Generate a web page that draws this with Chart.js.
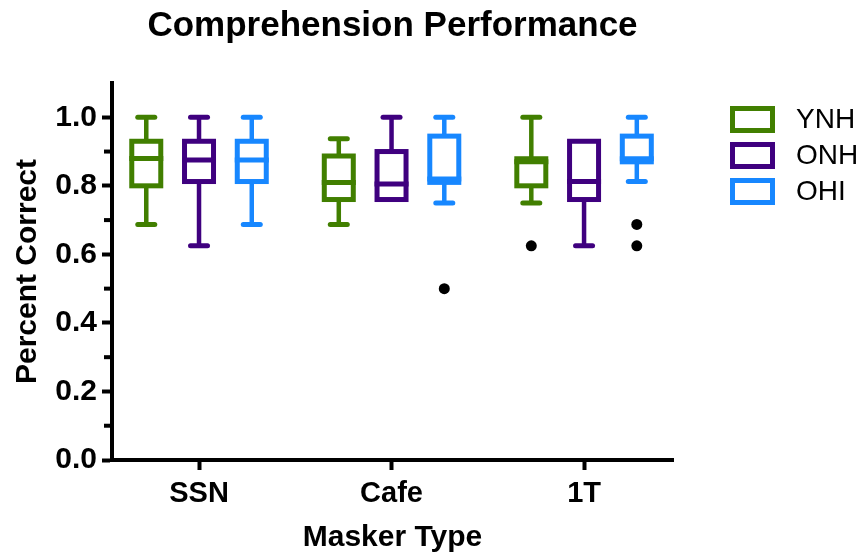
<!DOCTYPE html>
<html>
<head>
<meta charset="utf-8">
<script src="https://cdn.jsdelivr.net/npm/chart.js@4"></script>
<style>
  html, body { margin: 0; padding: 0; background: #fff; }
  #wrap { width: 866px; height: 559px; }
</style>
</head>
<body>
<div id="wrap"><canvas id="myChart"></canvas></div>
<script>
var categories = ['SSN', 'Cafe', '1T']
var groups = ['YNH', 'ONH', 'OHI']
var colors = ['#417f00', '#3f007f', '#1787ff']
var yTicks = [0, 0.2, 0.4, 0.6, 0.8, 1.0]
var yMinorTicks = [0.1, 0.3, 0.5, 0.7, 0.9]

// five-number summaries, one value per masker type
var ynhMin = [0.6875, 0.6875, 0.75]
var ynhQ1 = [0.80, 0.76, 0.80]
var ynhMedian = [0.88, 0.81, 0.87]
var ynhQ3 = [0.93, 0.887, 0.879]
var ynhMax = [1.0, 0.9375, 1.0]
var ynhOutliers = [[], [], [0.625]]

var onhMin = [0.625, 0.76, 0.625]
var onhQ1 = [0.8125, 0.76, 0.76]
var onhMedian = [0.875, 0.805, 0.8125]
var onhQ3 = [0.93, 0.90, 0.93]
var onhMax = [1.0, 1.0, 0.93]
var onhOutliers = [[], [], []]

var ohiMin = [0.6875, 0.75, 0.8125]
var ohiQ1 = [0.8125, 0.81, 0.87]
var ohiMedian = [0.875, 0.82, 0.879]
var ohiQ3 = [0.93, 0.945, 0.945]
var ohiMax = [1.0, 1.0, 1.0]
var ohiOutliers = [[], [0.5], [0.6875, 0.625]]

var mins = [ynhMin, onhMin, ohiMin]
var q1s = [ynhQ1, onhQ1, ohiQ1]
var medians = [ynhMedian, onhMedian, ohiMedian]
var q3s = [ynhQ3, onhQ3, ohiQ3]
var maxes = [ynhMax, onhMax, ohiMax]
var outliers = [ynhOutliers, onhOutliers, ohiOutliers]

// side-by-side spacing of the three boxes inside a masker group
var groupOffset = [-0.274, 0, 0.274]

Chart.defaults.font.family = 'Arial, "Liberation Sans", Helvetica, sans-serif'
Chart.defaults.color = '#000'

var datasets = groups.map(function (name, g) {
  return {
    type: 'bar',
    label: name,
    data: categories.map(function (c, i) {
      return { x: i + 1 + groupOffset[g], y: [q1s[g][i], q3s[g][i]] }
    }),
    backgroundColor: 'rgba(0,0,0,0)',
    borderColor: colors[g],
    borderWidth: 0,
    barThickness: 29,
    grouped: false
  }
})

groups.forEach(function (name, g) {
  var pts = []
  outliers[g].forEach(function (vals, i) {
    vals.forEach(function (v) {
      pts.push({ x: i + 1 + groupOffset[g], y: v })
    })
  })
  datasets.push({
    type: 'scatter',
    label: name + ' outliers',
    data: pts,
    pointRadius: 5.5,
    pointBackgroundColor: '#000',
    pointBorderWidth: 0
  })
})

function line (ctx, x1, y1, x2, y2) {
  ctx.beginPath()
  ctx.moveTo(x1, y1)
  ctx.lineTo(x2, y2)
  ctx.stroke()
}

// whiskers, box outlines and median lines, placed on the bar elements
var boxPlot = {
  id: 'boxPlot',
  afterDatasetsDraw: function (chart) {
    var ctx = chart.ctx
    var y = chart.scales.y
    ctx.save()
    groups.forEach(function (name, g) {
      var meta = chart.getDatasetMeta(g)
      ctx.strokeStyle = colors[g]
      meta.data.forEach(function (bar, i) {
        var left = bar.x - bar.width / 2
        var top = Math.min(bar.y, bar.base)
        var bottom = Math.max(bar.y, bar.base)
        var hi = y.getPixelForValue(maxes[g][i])
        var lo = y.getPixelForValue(mins[g][i])
        ctx.lineCap = 'butt'
        ctx.lineWidth = 4.5
        if (hi < top) line(ctx, bar.x, top, bar.x, hi)
        if (lo > bottom) line(ctx, bar.x, bottom, bar.x, lo)
        ctx.lineCap = 'round'
        ctx.lineWidth = 5
        if (hi < top) line(ctx, bar.x - 8.5, hi, bar.x + 8.5, hi)
        if (lo > bottom) line(ctx, bar.x - 8.5, lo, bar.x + 8.5, lo)
        ctx.lineCap = 'butt'
        ctx.lineWidth = 5
        ctx.strokeRect(left, top, bar.width, bottom - top)
        var m = y.getPixelForValue(medians[g][i])
        line(ctx, left - 2.5, m, left + bar.width + 2.5, m)
      })
    })
    ctx.restore()
  },
  afterDraw: function (chart) {
    var ctx = chart.ctx
    var y = chart.scales.y
    var axisX = chart.chartArea.left
    ctx.save()
    // short unlabelled ticks between the numbered ones
    ctx.strokeStyle = '#000'
    ctx.lineWidth = 4
    yMinorTicks.forEach(function (v) {
      var py = y.getPixelForValue(v)
      line(ctx, axisX - 8, py, axisX, py)
    })
    // legend
    ctx.font = '28px Arial, "Liberation Sans", Helvetica, sans-serif'
    ctx.textBaseline = 'middle'
    ctx.textAlign = 'left'
    groups.forEach(function (name, g) {
      var top = 108.5 + g * 36
      ctx.strokeStyle = colors[g]
      ctx.lineWidth = 5
      ctx.strokeRect(732.5, top, 40, 22)
      ctx.fillStyle = '#000'
      ctx.fillText(name, 796, top + 12)
    })
    ctx.restore()
  }
}

var ctx = document.getElementById('myChart')
var chart = new Chart(ctx, {
  type: 'bar',
  data: { datasets: datasets },
  options: {
    responsive: true,
    maintainAspectRatio: false,
    animation: false,
    layout: { padding: { right: 193 } },
    plugins: {
      legend: { display: false },
      tooltip: { enabled: false },
      title: {
        display: true,
        text: 'Comprehension Performance',
        fullSize: false,
        color: '#000',
        font: { size: 35, weight: 'bold' },
        padding: { top: 5, bottom: 36 }
      }
    },
    scales: {
      x: {
        type: 'linear',
        offset: false,
        min: 0.548,
        max: 3.462,
        afterBuildTicks: function (s) {
          s.ticks = categories.map(function (c, i) { return { value: i + 1 } })
        },
        afterFit: function (s) { s.height = 99 },
        ticks: {
          callback: function (v) { return categories[v - 1] },
          font: { size: 29, weight: 'bold' },
          color: '#000',
          padding: 7,
          maxRotation: 0,
          autoSkip: false
        },
        grid: { display: true, offset: false, drawOnChartArea: false, tickLength: 10, tickWidth: 4, tickColor: '#000' },
        border: { display: true, width: 4, color: '#000' },
        title: {
          display: true,
          text: 'Masker Type',
          color: '#000',
          font: { size: 30, weight: 'bold' },
          padding: { top: 0, bottom: 3 }
        }
      },
      y: {
        min: 0,
        max: 1.1,
        afterBuildTicks: function (s) {
          s.ticks = yTicks.map(function (v) { return { value: v } })
        },
        afterFit: function (s) { s.width = 112 },
        ticks: {
          callback: function (v) { return v.toFixed(1) },
          font: { size: 30, weight: 'bold' },
          color: '#000',
          padding: 5
        },
        grid: { display: true, drawOnChartArea: false, tickLength: 10, tickWidth: 4, tickColor: '#000' },
        border: { display: true, width: 4, color: '#000' },
        title: {
          display: true,
          text: 'Percent Correct',
          color: '#000',
          font: { size: 30, weight: 'bold' },
          padding: { top: 10, bottom: 0 }
        }
      }
    }
  },
  plugins: [boxPlot]
})
</script>
</body>
</html>
